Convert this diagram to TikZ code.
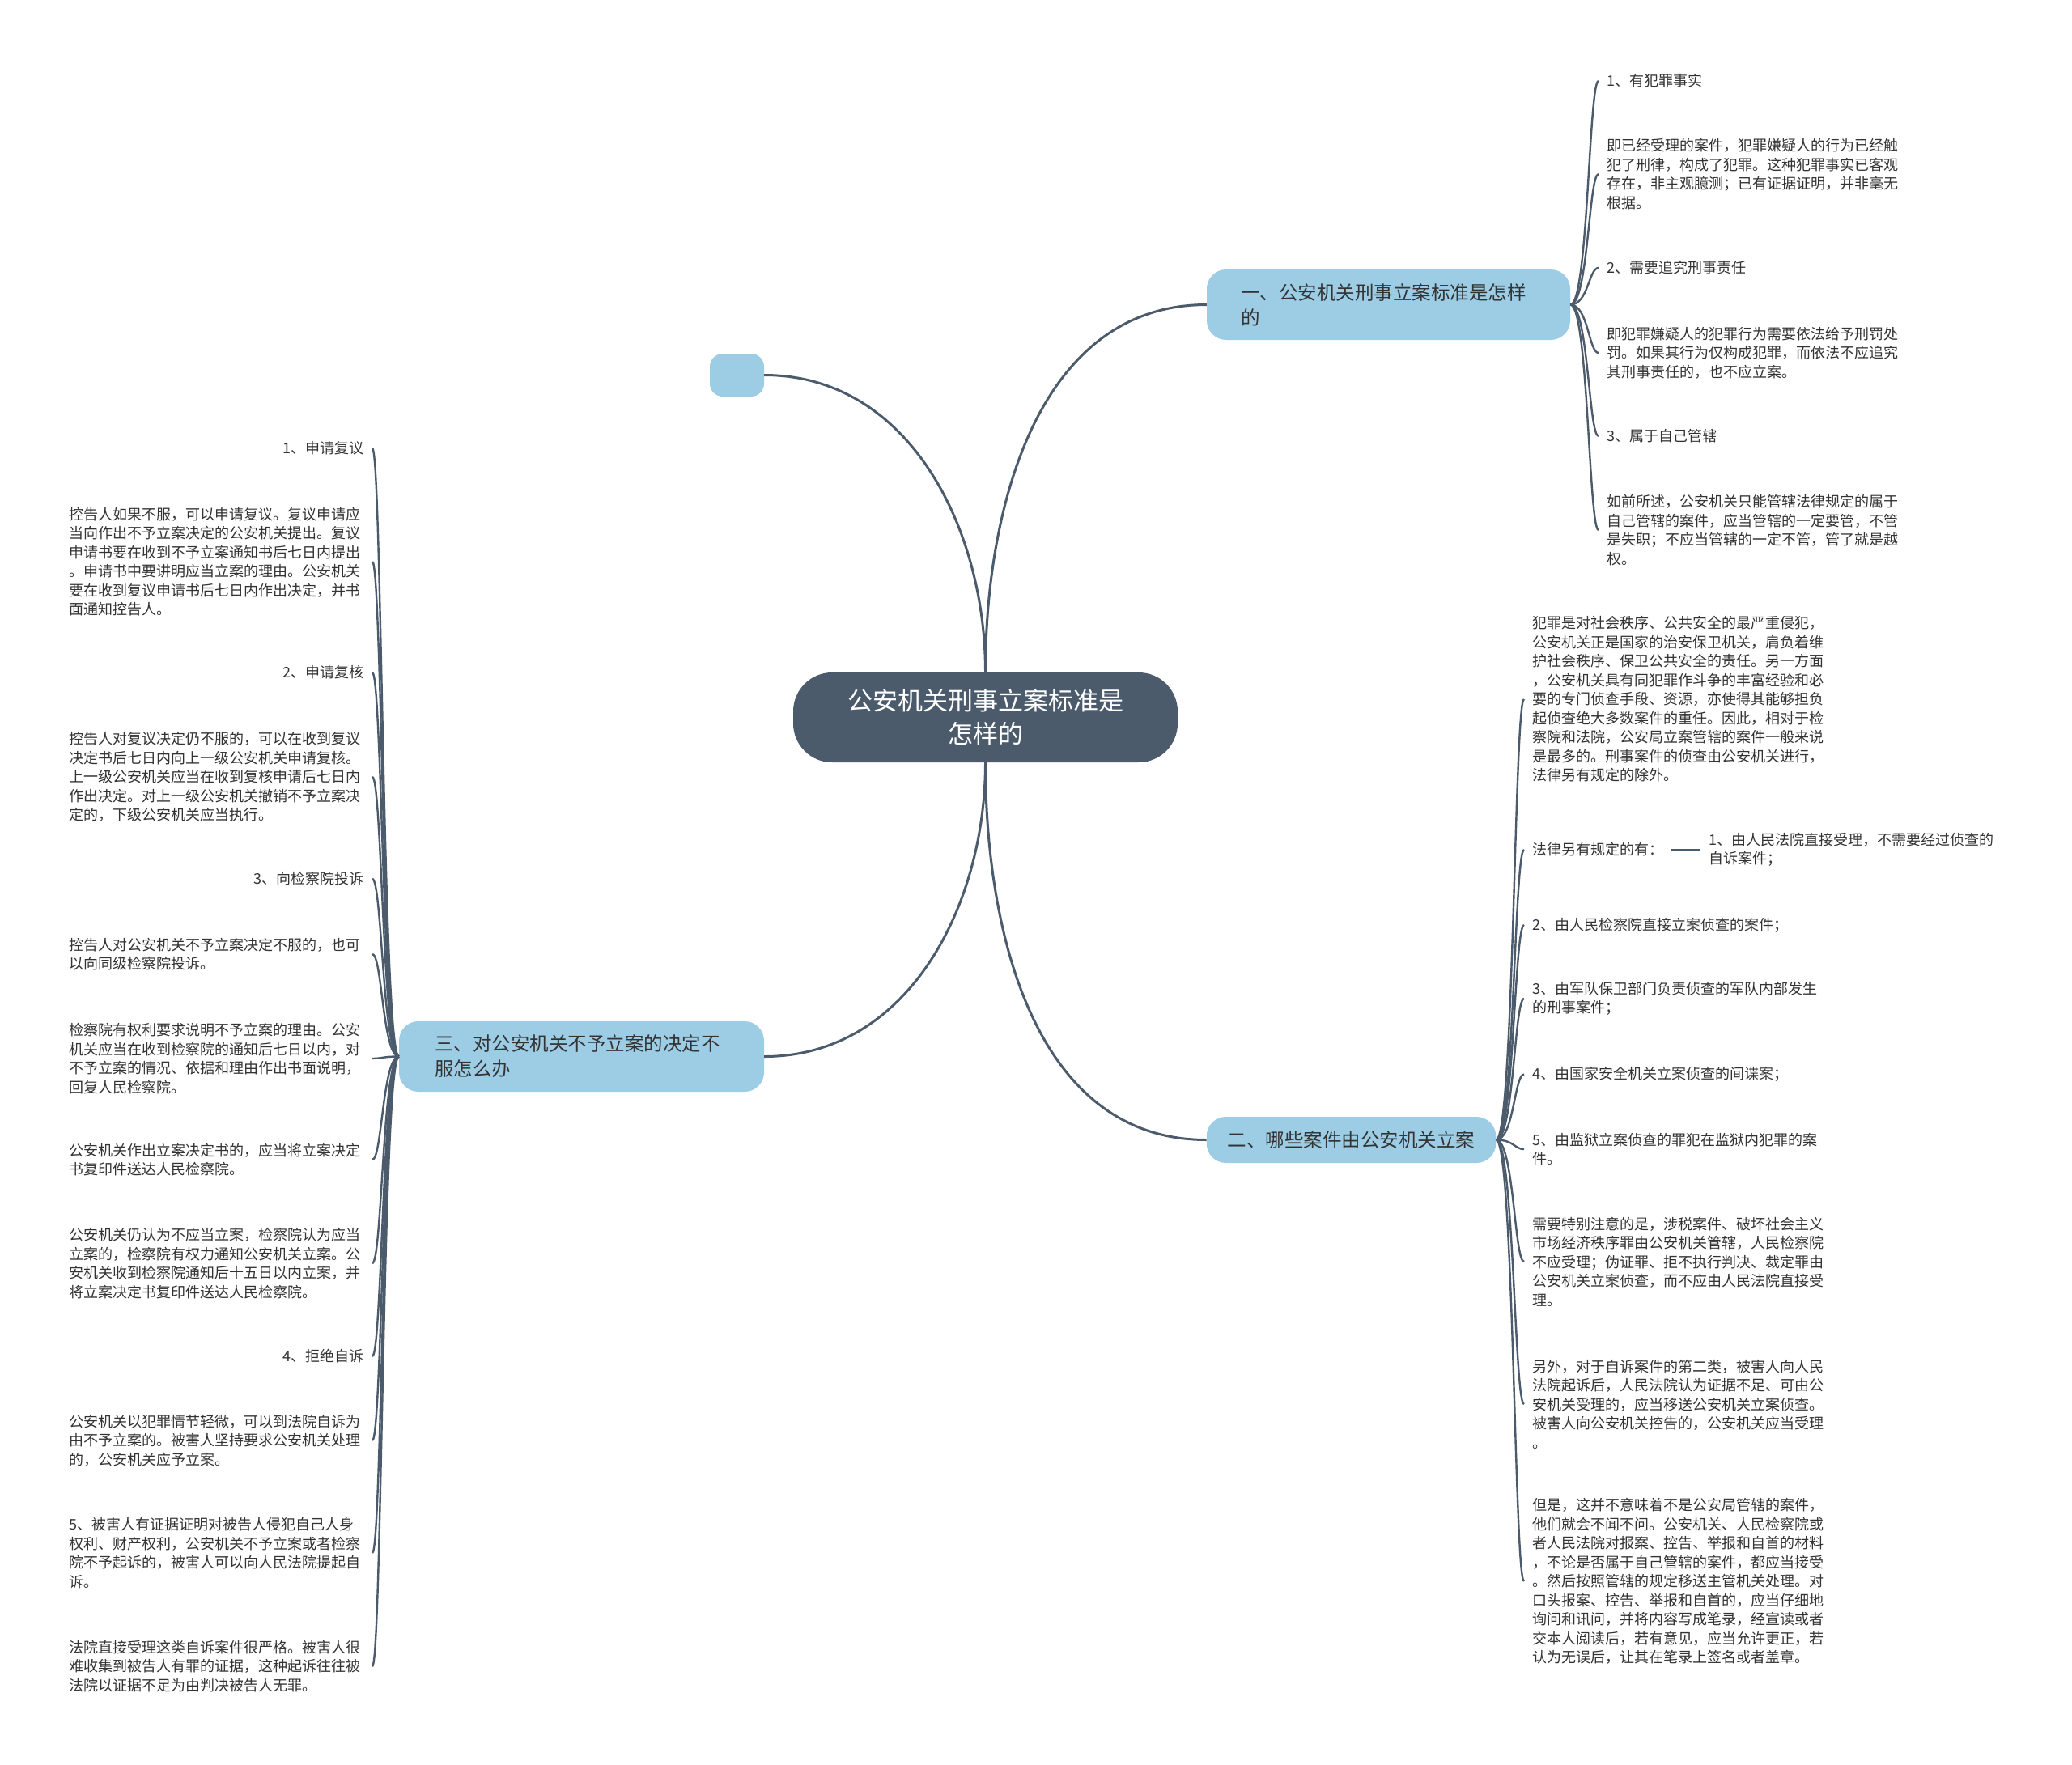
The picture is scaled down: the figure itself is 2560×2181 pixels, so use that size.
\documentclass[tikz,border=0pt]{standalone}
\usepackage{fontspec}
\setmainfont{Noto Sans CJK SC}
\usepackage{xcolor}
\usetikzlibrary{positioning,calc}
\definecolor{slate}{HTML}{4B5B6B}
\definecolor{skyfill}{HTML}{9CCDE5}
\definecolor{inkgray}{HTML}{333333}
\tikzset{
  link/.style={line width=3pt, draw=slate},
  brkR/.style={line width=2.4pt, draw=slate,
    to path={.. controls ($(\tikztostart)+(22,0)$) and ($(\tikztotarget)+(-12,0)$) .. (\tikztotarget)}},
  brkL/.style={line width=2.4pt, draw=slate,
    to path={.. controls ($(\tikztostart)+(-20,0)$) and ($(\tikztotarget)+(12,0)$) .. (\tikztotarget)}}
}

\begin{document}
\begin{tikzpicture}[x=1pt, y=-1pt,
  root/.style={fill=slate, text=white, rounded corners=48pt, minimum width=475pt, minimum height=111pt, align=center, font=\fontsize{31}{41}\selectfont},
  branch/.style={fill=skyfill, text=inkgray, rounded corners=24pt, align=left, inner xsep=26pt, font=\fontsize{23.5}{31}\selectfont},
  leaf/.style={text=inkgray, align=left, inner xsep=10pt, inner ysep=2pt, font=\fontsize{18}{23.5}\selectfont},
  para/.style={leaf, text width=364pt}
]
\fill[white] (0,0) rectangle (2560,2181);
\useasboundingbox (0,0) rectangle (2560,2181);

% centre and main branches
\node[root] (root) at (1217.5,886.5) {公安机关刑事立案标准是\\怎样的};
\node[branch, inner xsep=42pt, text width=365pt, minimum height=87pt] (b1) at (1715.5,376.5) {一、公安机关刑事立案标准是怎样\\的};
\node[branch, minimum width=357pt, minimum height=57pt] (b2) at (1669.5,1408.5) {二、哪些案件由公安机关立案};
\node[branch, inner xsep=44pt, text width=363pt, minimum height=87pt] (b3) at (718.5,1305.5) {三、对公安机关不予立案的决定不\\服怎么办};
\node[fill=skyfill, rounded corners=16pt, minimum width=67pt, minimum height=53pt] (blank) at (910.5,463.5) {};

\draw[link] (root.north) to[out=90, in=180] (b1.west);
\draw[link] (root.north) to[out=90, in=0] (blank.east);
\draw[link] (root.south) to[out=-90, in=180] (b2.west);
\draw[link] (root.south) to[out=-90, in=0] (b3.east);

% branch one
\node[leaf, anchor=west] (c11) at (1975,100) {1、有犯罪事实};
\node[leaf, anchor=west] (c12) at (1975,215) {即已经受理的案件，犯罪嫌疑人的行为已经触\\犯了刑律，构成了犯罪。这种犯罪事实已客观\\存在，非主观臆测；已有证据证明，并非毫无\\根据。};
\node[leaf, anchor=west] (c13) at (1975,331) {2、需要追究刑事责任};
\node[leaf, anchor=west] (c14) at (1975,436) {即犯罪嫌疑人的犯罪行为需要依法给予刑罚处\\罚。如果其行为仅构成犯罪，而依法不应追究\\其刑事责任的，也不应立案。};
\node[leaf, anchor=west] (c15) at (1975,539) {3、属于自己管辖};
\node[leaf, anchor=west] (c16) at (1975,655) {如前所述，公安机关只能管辖法律规定的属于\\自己管辖的案件，应当管辖的一定要管，不管\\是失职；不应当管辖的一定不管，管了就是越\\权。};
\foreach \c in {c11,c12,c13,c14,c15,c16}
  \draw[brkR] (b1.east) to (\c.west);

% branch two
\node[leaf, anchor=west] (c21) at (1883,864) {犯罪是对社会秩序、公共安全的最严重侵犯，\\公安机关正是国家的治安保卫机关，肩负着维\\护社会秩序、保卫公共安全的责任。另一方面\\，公安机关具有同犯罪作斗争的丰富经验和必\\要的专门侦查手段、资源，亦使得其能够担负\\起侦查绝大多数案件的重任。因此，相对于检\\察院和法院，公安局立案管辖的案件一般来说\\是最多的。刑事案件的侦查由公安机关进行，\\法律另有规定的除外。};
\node[leaf, anchor=west] (c22) at (1883,1050) {法律另有规定的有：};
\node[leaf, anchor=west] (c22a) at (2101,1050) {1、由人民法院直接受理，不需要经过侦查的\\自诉案件；};
\node[leaf, anchor=west] (c23) at (1883,1143) {2、由人民检察院直接立案侦查的案件；};
\node[leaf, anchor=west] (c24) at (1883,1234) {3、由军队保卫部门负责侦查的军队内部发生\\的刑事案件；};
\node[leaf, anchor=west] (c25) at (1883,1327.5) {4、由国家安全机关立案侦查的间谍案；};
\node[leaf, anchor=west] (c26) at (1883,1420) {5、由监狱立案侦查的罪犯在监狱内犯罪的案\\件。};
\node[leaf, anchor=west] (c27) at (1883,1559) {需要特别注意的是，涉税案件、破坏社会主义\\市场经济秩序罪由公安机关管辖，人民检察院\\不应受理；伪证罪、拒不执行判决、裁定罪由\\公安机关立案侦查，而不应由人民法院直接受\\理。};
\node[leaf, anchor=west] (c28) at (1883,1735) {另外，对于自诉案件的第二类，被害人向人民\\法院起诉后，人民法院认为证据不足、可由公\\安机关受理的，应当移送公安机关立案侦查。\\被害人向公安机关控告的，公安机关应当受理\\。};
\node[leaf, anchor=west] (c29) at (1883,1954) {但是，这并不意味着不是公安局管辖的案件，\\他们就会不闻不问。公安机关、人民检察院或\\者人民法院对报案、控告、举报和自首的材料\\，不论是否属于自己管辖的案件，都应当接受\\。然后按照管辖的规定移送主管机关处理。对\\口头报案、控告、举报和自首的，应当仔细地\\询问和讯问，并将内容写成笔录，经宣读或者\\交本人阅读后，若有意见，应当允许更正，若\\认为无误后，让其在笔录上签名或者盖章。};
\foreach \c in {c21,c22,c23,c24,c25,c26,c27,c28,c29}
  \draw[brkR] (b2.east) to (\c.west);
\draw[link] (c22.east) -- (c22a.west);

% branch three
\node[leaf, anchor=east] (d1) at (460,554) {1、申请复议};
\node[para, anchor=east] (d2) at (460,694) {控告人如果不服，可以申请复议。复议申请应\\当向作出不予立案决定的公安机关提出。复议\\申请书要在收到不予立案通知书后七日内提出\\。申请书中要讲明应当立案的理由。公安机关\\要在收到复议申请书后七日内作出决定，并书\\面通知控告人。};
\node[leaf, anchor=east] (d3) at (460,831) {2、申请复核};
\node[para, anchor=east] (d4) at (460,960) {控告人对复议决定仍不服的，可以在收到复议\\决定书后七日内向上一级公安机关申请复核。\\上一级公安机关应当在收到复核申请后七日内\\作出决定。对上一级公安机关撤销不予立案决\\定的，下级公安机关应当执行。};
\node[leaf, anchor=east] (d5) at (460,1086) {3、向检察院投诉};
\node[para, anchor=east] (d6) at (460,1179) {控告人对公安机关不予立案决定不服的，也可\\以向同级检察院投诉。};
\node[para, anchor=east] (d7) at (460,1308) {检察院有权利要求说明不予立案的理由。公安\\机关应当在收到检察院的通知后七日以内，对\\不予立案的情况、依据和理由作出书面说明，\\回复人民检察院。};
\node[para, anchor=east] (d8) at (460,1433) {公安机关作出立案决定书的，应当将立案决定\\书复印件送达人民检察院。};
\node[para, anchor=east] (d9) at (460,1561) {公安机关仍认为不应当立案，检察院认为应当\\立案的，检察院有权力通知公安机关立案。公\\安机关收到检察院通知后十五日以内立案，并\\将立案决定书复印件送达人民检察院。};
\node[leaf, anchor=east] (d10) at (460,1676) {4、拒绝自诉};
\node[para, anchor=east] (d11) at (460,1780) {公安机关以犯罪情节轻微，可以到法院自诉为\\由不予立案的。被害人坚持要求公安机关处理\\的，公安机关应予立案。};
\node[para, anchor=east] (d12) at (460,1919) {5、被害人有证据证明对被告人侵犯自己人身\\权利、财产权利，公安机关不予立案或者检察\\院不予起诉的，被害人可以向人民法院提起自\\诉。};
\node[para, anchor=east] (d13) at (460,2059) {法院直接受理这类自诉案件很严格。被害人很\\难收集到被告人有罪的证据，这种起诉往往被\\法院以证据不足为由判决被告人无罪。};
\foreach \c in {d1,d2,d3,d4,d5,d6,d7,d8,d9,d10,d11,d12,d13}
  \draw[brkL] (b3.west) to (\c.east);
\end{tikzpicture}
\end{document}
